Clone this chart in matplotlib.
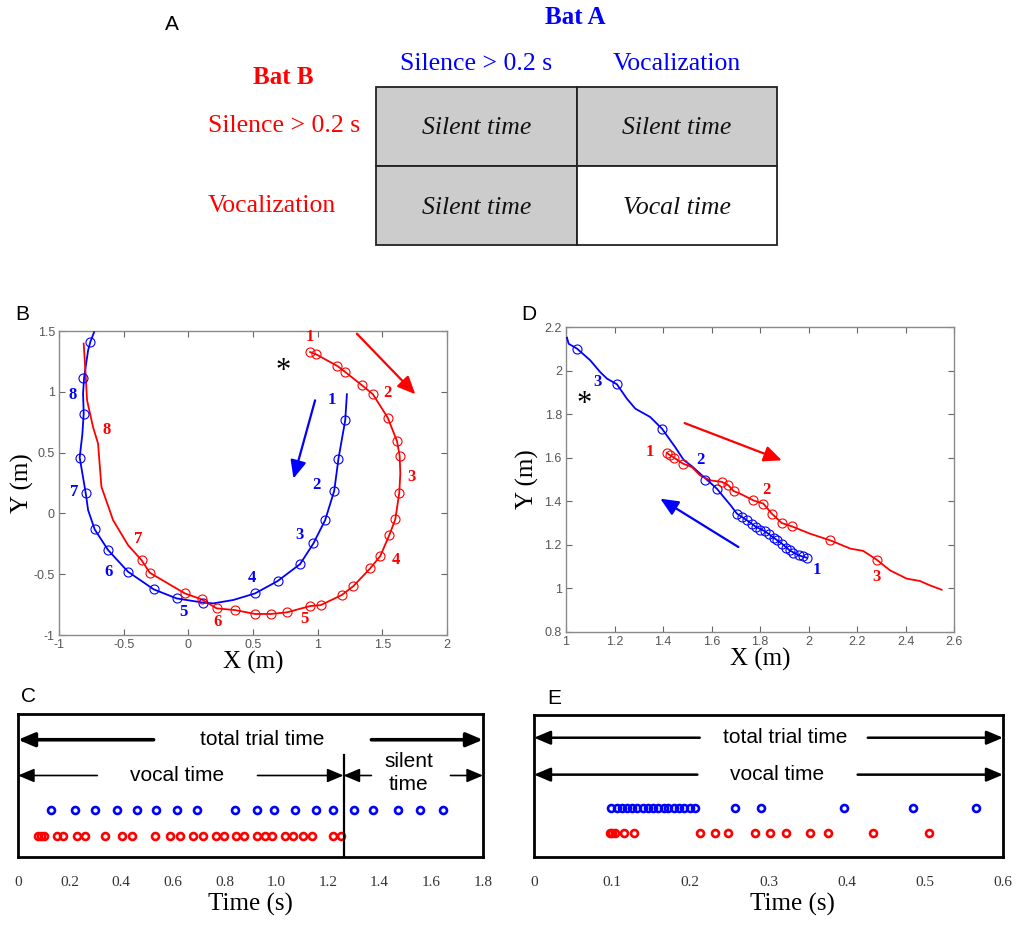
import matplotlib
matplotlib.use('Agg')
import matplotlib.pyplot as plt
from matplotlib.patches import Rectangle

W, H = 1017, 926
BLUE = '#0000ff'
RED = '#ff0000'
SERIF = 'Liberation Serif'
SANS = 'Liberation Sans'

# ---------------- panel A: condition table ----------------
bat_a_states = ['Silence > 0.2 s', 'Vocalization']
bat_b_states = ['Silence > 0.2 s', 'Vocalization']
cell_labels = [['Silent time', 'Silent time'],
               ['Silent time', 'Vocal time']]
cell_shaded = [[True, True],
               [True, False]]

# ---------------- panel B: circling flight ----------------
b_blue_x = [1.226, 1.213, 1.161, 1.128, 1.058, 0.967, 0.864, 0.691, 0.516, 0.348,
            0.193, 0.115, -0.091, -0.267, -0.466, -0.620, -0.724, -0.775, -0.793,
            -0.840, -0.819, -0.809, -0.814, -0.806, -0.775, -0.757, -0.729]
b_blue_y = [0.980, 0.766, 0.451, 0.186, -0.055, -0.247, -0.417, -0.556, -0.658, -0.712,
            -0.740, -0.734, -0.699, -0.625, -0.480, -0.302, -0.132, 0.027, 0.164,
            0.459, 0.657, 0.821, 0.985, 1.117, 1.341, 1.412, 1.490]
b_blue_mx = [1.213, 1.161, 1.128, 1.058, 0.967, 0.864, 0.691, 0.516, 0.115, -0.091,
             -0.267, -0.466, -0.620, -0.724, -0.793, -0.840, -0.809, -0.814, -0.757]
b_blue_my = [0.766, 0.451, 0.186, -0.055, -0.247, -0.417, -0.556, -0.658, -0.734, -0.699,
             -0.625, -0.480, -0.302, -0.132, 0.164, 0.459, 0.821, 1.117, 1.412]

b_red_x = [0.942, 0.988, 1.153, 1.213, 1.342, 1.427, 1.541, 1.613, 1.634, 1.639,
           1.631, 1.600, 1.554, 1.484, 1.406, 1.277, 1.187, 1.024, 0.942, 0.761,
           0.637, 0.516, 0.361, 0.219, 0.103, -0.027, -0.298, -0.362, -0.466, -0.582,
           -0.672, -0.698, -0.737, -0.783, -0.793, -0.809]
b_red_y = [1.327, 1.308, 1.212, 1.163, 1.054, 0.980, 0.788, 0.596, 0.473, 0.328,
           0.169, -0.050, -0.178, -0.351, -0.452, -0.597, -0.671, -0.754, -0.762, -0.814,
           -0.827, -0.827, -0.795, -0.781, -0.707, -0.658, -0.488, -0.384, -0.261, -0.055,
           0.219, 0.574, 0.711, 0.930, 1.122, 1.396]
b_red_mx = [0.942, 0.988, 1.153, 1.213, 1.342, 1.427, 1.541, 1.613, 1.634, 1.631,
            1.600, 1.554, 1.484, 1.406, 1.277, 1.187, 1.024, 0.942, 0.761, 0.637,
            0.516, 0.361, 0.219, 0.103, -0.027, -0.298, -0.362]
b_red_my = [1.327, 1.308, 1.212, 1.163, 1.054, 0.980, 0.788, 0.596, 0.473, 0.169,
            -0.050, -0.178, -0.351, -0.452, -0.597, -0.671, -0.754, -0.762, -0.814, -0.827,
            -0.827, -0.795, -0.781, -0.707, -0.658, -0.488, -0.384]

b_blue_num_x = [1.110, 0.993, 0.859, 0.490, -0.034, -0.620, -0.879, -0.897]
b_blue_num_y = [0.930, 0.232, -0.178, -0.534, -0.808, -0.480, 0.177, 0.972]
b_red_num_x = [0.937, 1.543, 1.724, 1.608, 0.895, 0.224, -0.388, -0.633]
b_red_num_y = [1.451, 0.991, 0.301, -0.384, -0.871, -0.890, -0.214, 0.684]

# ---------------- panel D: following flight ----------------
d_blue_x = [1.993, 1.959, 1.922, 1.890, 1.856, 1.821, 1.784, 1.746, 1.705, 1.680,
            1.650, 1.622, 1.590, 1.560, 1.520, 1.485, 1.450, 1.396, 1.347, 1.286,
            1.251, 1.210, 1.169, 1.141, 1.100, 1.045, 1.011, 1.004]
d_blue_y = [1.141, 1.152, 1.175, 1.206, 1.233, 1.262, 1.282, 1.313, 1.343, 1.380,
            1.420, 1.458, 1.490, 1.520, 1.560, 1.590, 1.649, 1.733, 1.787, 1.825,
            1.871, 1.937, 1.963, 1.993, 2.047, 2.101, 2.123, 2.151]
d_blue_mx = [1.705, 1.725, 1.746, 1.766, 1.784, 1.801, 1.821, 1.839, 1.856, 1.872,
             1.890, 1.908, 1.922, 1.938, 1.959, 1.977, 1.993, 1.622, 1.574, 1.396,
             1.210, 1.045]
d_blue_my = [1.343, 1.328, 1.313, 1.294, 1.282, 1.270, 1.262, 1.248, 1.233, 1.221,
             1.206, 1.187, 1.175, 1.163, 1.152, 1.147, 1.141, 1.458, 1.496, 1.733,
             1.937, 2.101]

d_red_x = [1.416, 1.430, 1.446, 1.482, 1.519, 1.553, 1.595, 1.643, 1.670, 1.691,
           1.718, 1.773, 1.814, 1.849, 1.890, 1.931, 2.007, 2.089, 2.172, 2.226,
           2.281, 2.336, 2.405, 2.460, 2.501, 2.549]
d_red_y = [1.622, 1.611, 1.600, 1.573, 1.557, 1.519, 1.496, 1.489, 1.473, 1.447,
           1.435, 1.404, 1.389, 1.343, 1.300, 1.285, 1.251, 1.221, 1.183, 1.172,
           1.132, 1.083, 1.045, 1.034, 1.014, 0.994]
d_red_mx = [1.416, 1.430, 1.446, 1.482, 1.643, 1.670, 1.691, 1.773, 1.814, 1.849,
            1.890, 1.931, 2.089, 2.281]
d_red_my = [1.622, 1.611, 1.600, 1.573, 1.489, 1.473, 1.447, 1.404, 1.389, 1.343,
            1.300, 1.285, 1.221, 1.132]

d_blue_num_x = [2.034, 1.553, 1.128]
d_blue_num_y = [1.083, 1.591, 1.948]
d_red_num_x = [1.345, 1.825, 2.281]
d_red_num_y = [1.626, 1.453, 1.053]

# ---------------- panel C / E: call times (s) ----------------
c_blue_t = [0.128, 0.219, 0.298, 0.383, 0.462, 0.536, 0.617, 0.693, 0.840, 0.926,
            0.990, 1.073, 1.153, 1.220, 1.300, 1.373, 1.472, 1.558, 1.644]
c_red_t = [0.079, 0.089, 0.100, 0.151, 0.176, 0.230, 0.258, 0.338, 0.402, 0.441,
           0.530, 0.590, 0.626, 0.679, 0.718, 0.766, 0.798, 0.843, 0.875, 0.926,
           0.958, 0.983, 1.034, 1.064, 1.105, 1.137, 1.219, 1.252]
c_trial_end = 1.8
c_vocal_end = 1.26

e_blue_t = [0.099, 0.106, 0.112, 0.119, 0.126, 0.132, 0.139, 0.146, 0.152, 0.159,
            0.166, 0.172, 0.179, 0.186, 0.192, 0.199, 0.206, 0.257, 0.291, 0.396,
            0.485, 0.566]
e_red_t = [0.097, 0.100, 0.104, 0.115, 0.128, 0.213, 0.231, 0.248, 0.283, 0.302,
           0.323, 0.353, 0.376, 0.434, 0.505]
e_trial_end = 0.6

c_ticks = [0, 0.2, 0.4, 0.6, 0.8, 1.0, 1.2, 1.4, 1.6, 1.8]
c_ticklabels = ['0', '0.2', '0.4', '0.6', '0.8', '1.0', '1.2', '1.4', '1.6', '1.8']
e_ticks = [0, 0.1, 0.2, 0.3, 0.4, 0.5, 0.6]
e_ticklabels = ['0', '0.1', '0.2', '0.3', '0.4', '0.5', '0.6']
b_xticks = [-1, -0.5, 0, 0.5, 1, 1.5, 2]
b_xticklabels = ['-1', '-0.5', '0', '0.5', '1', '1.5', '2']
b_yticks = [-1, -0.5, 0, 0.5, 1, 1.5]
b_yticklabels = ['-1', '-0.5', '0', '0.5', '1', '1.5']
d_xticks = [1, 1.2, 1.4, 1.6, 1.8, 2, 2.2, 2.4, 2.6]
d_xticklabels = ['1', '1.2', '1.4', '1.6', '1.8', '2', '2.2', '2.4', '2.6']
d_yticks = [0.8, 1, 1.2, 1.4, 1.6, 1.8, 2, 2.2]
d_yticklabels = ['0.8', '1', '1.2', '1.4', '1.6', '1.8', '2', '2.2']


def px_axes(fig, left, top, right, bottom):
    """axes from pixel box"""
    return fig.add_axes([left / W, 1 - bottom / H, (right - left) / W, (bottom - top) / H])


def panel_letter(fig, x, y, s):
    fig.text(x / W, 1 - y / H, s, family=SANS, fontsize=15, ha='center', va='center')


def style_track_axes(ax, xt, xtl, yt, ytl, ylab_x):
    for s in ax.spines.values():
        s.set_color('#8a8a8a')
        s.set_linewidth(1.0)
    ax.set_xticks(xt, labels=xtl, family=SANS)
    ax.set_yticks(yt, labels=ytl, family=SANS)
    ax.tick_params(direction='in', top=True, right=True, length=4, width=0.8,
                   color='#666666', labelsize=9, labelcolor='#555555', pad=3)
    ax.set_xlabel('X (m)', family=SERIF, fontsize=18, labelpad=0)
    ax.set_ylabel('Y (m)', family=SERIF, fontsize=18)
    ax.yaxis.set_label_coords(ylab_x, 0.5)


def draw_track(ax, x, y, mx, my, color):
    ax.plot(x, y, '-', color=color, lw=1.3, zorder=3)
    ax.plot(mx, my, 'o', mfc='none', mec=color, ms=6.5, mew=0.8, zorder=4)


def span_arrow(ax, x0, x1, y, lw):
    ax.annotate('', xy=(x1, y), xytext=(x0, y),
                arrowprops=dict(arrowstyle='-|>,head_length=0.9,head_width=0.38',
                                lw=lw, color='k', shrinkA=0, shrinkB=0,
                                mutation_scale=11))


def style_time_axes(ax, xmax, ticks, labels, label_x):
    ax.set_xlim(0, xmax)
    ax.set_ylim(0, 1)
    for s in ax.spines.values():
        s.set_color('k')
        s.set_linewidth(2)
    ax.set_yticks([])
    ax.set_xticks(ticks, labels=labels, family=SERIF)
    ax.tick_params(axis='x', length=0, labelsize=11, pad=14, labelcolor='#333333')
    ax.set_xlabel('Time (s)', family=SERIF, fontsize=18, labelpad=2)
    ax.xaxis.set_label_coords(label_x, -0.25)


fig = plt.figure(figsize=(W / 100, H / 100), dpi=100)

# ---------------- A ----------------
ax_a = fig.add_axes([0, 0, 1, 1])
ax_a.set_xlim(0, W)
ax_a.set_ylim(H, 0)
ax_a.axis('off')
tab_left, tab_top, col_w, row_h = 376, 87, 200.5, 79
for r in range(2):
    for c in range(2):
        x0 = tab_left + c * col_w
        y0 = tab_top + r * row_h
        ax_a.add_patch(Rectangle((x0, y0), col_w, row_h,
                                 facecolor='#cccccc' if cell_shaded[r][c] else 'white',
                                 edgecolor='#222222', lw=1.3))
        ax_a.text(x0 + col_w / 2, y0 + row_h / 2 + 2, cell_labels[r][c], family=SERIF,
                  style='italic', fontsize=18.5, ha='center', va='center', color='#111111')
for c, s in enumerate(bat_a_states):
    ax_a.text(tab_left + (c + 0.5) * col_w, 64, s, family=SERIF, fontsize=18.5,
              color=BLUE, ha='center', va='center')
for r, s in enumerate(bat_b_states):
    ax_a.text(208, tab_top + (r + 0.5) * row_h, s, family=SERIF, fontsize=18.5,
              color=RED, ha='left', va='center')
ax_a.text(575, 18, 'Bat A', family=SERIF, fontsize=18, weight='bold', color=BLUE,
          ha='center', va='center')
ax_a.text(283, 77, 'Bat B', family=SERIF, fontsize=18, weight='bold', color=RED,
          ha='center', va='center')
panel_letter(fig, 172, 24, 'A')

# ---------------- B ----------------
ax_b = px_axes(fig, 59, 331, 447, 635)
draw_track(ax_b, b_blue_x, b_blue_y, b_blue_mx, b_blue_my, BLUE)
draw_track(ax_b, b_red_x, b_red_y, b_red_mx, b_red_my, RED)
for i, (x, y) in enumerate(zip(b_blue_num_x, b_blue_num_y)):
    ax_b.text(x, y, str(i + 1), color=BLUE, family=SERIF, weight='bold', fontsize=12,
              ha='center', va='center')
for i, (x, y) in enumerate(zip(b_red_num_x, b_red_num_y)):
    ax_b.text(x, y, str(i + 1), color=RED, family=SERIF, weight='bold', fontsize=12,
              ha='center', va='center')
ax_b.annotate('', xy=(1.755, 0.98), xytext=(1.303, 1.478),
              arrowprops=dict(arrowstyle='-|>,head_length=0.9,head_width=0.4', lw=1.6,
                              color=RED, shrinkA=0, shrinkB=0, mutation_scale=12))
ax_b.annotate('', xy=(0.813, 0.287), xytext=(0.980, 0.930),
              arrowprops=dict(arrowstyle='-|>,head_length=0.9,head_width=0.4', lw=1.6,
                              color=BLUE, shrinkA=0, shrinkB=0, mutation_scale=12))
ax_b.text(0.730, 1.17, '*', fontsize=22, ha='center', va='center', family=SERIF)
ax_b.set_xlim(-1, 2)
ax_b.set_ylim(-1, 1.5)
style_track_axes(ax_b, b_xticks, b_xticklabels, b_yticks, b_yticklabels, -0.065)
panel_letter(fig, 22, 314, 'B')

# ---------------- D ----------------
ax_d = px_axes(fig, 566, 327, 954, 632)
draw_track(ax_d, d_blue_x, d_blue_y, d_blue_mx, d_blue_my, BLUE)
draw_track(ax_d, d_red_x, d_red_y, d_red_mx, d_red_my, RED)
for i, (x, y) in enumerate(zip(d_blue_num_x, d_blue_num_y)):
    ax_d.text(x, y, str(i + 1), color=BLUE, family=SERIF, weight='bold', fontsize=12,
              ha='center', va='center')
for i, (x, y) in enumerate(zip(d_red_num_x, d_red_num_y)):
    ax_d.text(x, y, str(i + 1), color=RED, family=SERIF, weight='bold', fontsize=12,
              ha='center', va='center')
ax_d.annotate('', xy=(1.890, 1.588), xytext=(1.489, 1.759),
              arrowprops=dict(arrowstyle='-|>,head_length=0.9,head_width=0.4', lw=1.6,
                              color=RED, shrinkA=0, shrinkB=0, mutation_scale=12))
ax_d.annotate('', xy=(1.389, 1.412), xytext=(1.711, 1.190),
              arrowprops=dict(arrowstyle='-|>,head_length=0.9,head_width=0.4', lw=1.6,
                              color=BLUE, shrinkA=0, shrinkB=0, mutation_scale=12))
ax_d.text(1.073, 1.845, '*', fontsize=22, ha='center', va='center', family=SERIF)
ax_d.set_xlim(1, 2.6)
ax_d.set_ylim(0.8, 2.2)
style_track_axes(ax_d, d_xticks, d_xticklabels, d_yticks, d_yticklabels, -0.07)
panel_letter(fig, 529, 314, 'D')

# ---------------- C ----------------
ax_c = px_axes(fig, 18, 714, 483, 857)
ax_c.plot(c_blue_t, [0.33] * len(c_blue_t), 'o', mfc='none', mec=BLUE, ms=5, mew=1.9)
ax_c.plot(c_red_t, [0.15] * len(c_red_t), 'o', mfc='none', mec=RED, ms=5, mew=1.9)
ax_c.plot([c_vocal_end, c_vocal_end], [0, 0.71], color='k', lw=1.6)
# total trial time
span_arrow(ax_c, 0.525, 0, 0.82, 2.6)
span_arrow(ax_c, 1.368, c_trial_end, 0.82, 2.6)
ax_c.text(0.946, 0.82, 'total trial time', family=SANS, fontsize=15, ha='center', va='center')
# vocal time
span_arrow(ax_c, 0.307, 0, 0.57, 1.2)
span_arrow(ax_c, 0.927, c_vocal_end, 0.57, 1.2)
ax_c.text(0.617, 0.57, 'vocal time', family=SANS, fontsize=15, ha='center', va='center')
# silent time
span_arrow(ax_c, 1.368, c_vocal_end, 0.57, 1.2)
span_arrow(ax_c, 1.674, c_trial_end, 0.57, 1.2)
ax_c.text(1.513, 0.585, 'silent\ntime', family=SANS, fontsize=15, ha='center', va='center',
          linespacing=1.25)
style_time_axes(ax_c, 1.8, c_ticks, c_ticklabels, 0.5)
panel_letter(fig, 29, 696, 'C')

# ---------------- E ----------------
ax_e = px_axes(fig, 534, 715, 1003, 857)
ax_e.plot(e_blue_t, [0.345] * len(e_blue_t), 'o', mfc='none', mec=BLUE, ms=5, mew=1.9)
ax_e.plot(e_red_t, [0.17] * len(e_red_t), 'o', mfc='none', mec=RED, ms=5, mew=1.9)
span_arrow(ax_e, 0.212, 0, 0.84, 1.8)
span_arrow(ax_e, 0.427, e_trial_end, 0.84, 1.8)
ax_e.text(0.321, 0.84, 'total trial time', family=SANS, fontsize=15, ha='center', va='center')
span_arrow(ax_e, 0.209, 0, 0.58, 1.8)
span_arrow(ax_e, 0.414, e_trial_end, 0.58, 1.8)
ax_e.text(0.311, 0.58, 'vocal time', family=SANS, fontsize=15, ha='center', va='center')
style_time_axes(ax_e, 0.6, e_ticks, e_ticklabels, 0.55)
panel_letter(fig, 554, 698, 'E')

fig.savefig('out.png', dpi=100, facecolor='white')
